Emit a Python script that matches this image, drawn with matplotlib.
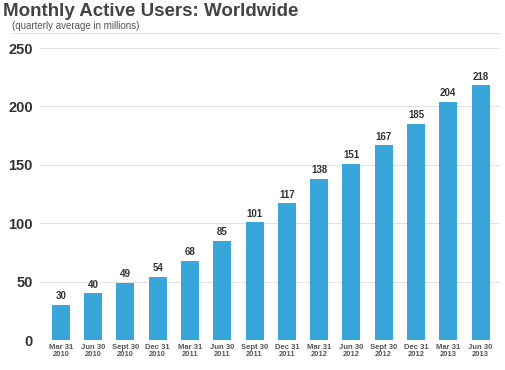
import matplotlib.pyplot as plt

plt.rcParams["font.family"] = ["Liberation Sans", "DejaVu Sans"]

# quarterly MAU (millions)
quarters = ["Mar 31\n2010", "Jun 30\n2010", "Sept 30\n2010", "Dec 31\n2010",
            "Mar 31\n2011", "Jun 30\n2011", "Sept 30\n2011", "Dec 31\n2011",
            "Mar 31\n2012", "Jun 30\n2012", "Sept 30\n2012", "Dec 31\n2012",
            "Mar 31\n2013", "Jun 30\n2013"]
users = [30, 40, 49, 54, 68, 85, 101, 117, 138, 151, 167, 185, 204, 218]
yticks = [0, 50, 100, 150, 200, 250]

fig = plt.figure(figsize=(5.05, 3.7), dpi=100)
ax = fig.add_axes([0.079, 0.081, 0.911, 0.789])

x = list(range(len(users)))
ax.bar(x, users, width=0.56, color="#38a6d9", zorder=2)

# value labels on top of bars
for xi, v in zip(x, users):
    ax.text(xi, v + 3, str(v), ha="center", va="bottom",
            fontsize=7, fontweight="bold", color="#333333")

ax.set_xlim(-0.65, 13.6)
ax.set_ylim(0, 250)
ax.set_yticks(yticks)
ax.set_yticklabels([str(t) for t in yticks], fontsize=10.5, fontweight="bold",
                   color="#333333")
ax.set_xticks(x)
ax.set_xticklabels(quarters, fontsize=5.5, fontweight="bold", color="#555555",
                   linespacing=0.9)
ax.tick_params(axis="both", length=0)
ax.tick_params(axis="y", pad=5)
ax.tick_params(axis="x", pad=3)

ax.grid(axis="y", color="#e2e2e2", linewidth=0.8, zorder=0)
for s in ax.spines.values():
    s.set_visible(False)

# title block
fig.text(0.006, 0.968, "Monthly Active Users: Worldwide", fontsize=13.5,
         fontweight="bold", color="#444444", va="center")
fig.text(0.024, 0.929, "(quarterly average in millions)", fontsize=7,
         color="#555555", va="center")
fig.add_artist(plt.Line2D([0.022, 0.99], [0.91, 0.91], color="#e2e2e2",
                          linewidth=0.8, transform=fig.transFigure))

fig.savefig("out.png", dpi=100)
